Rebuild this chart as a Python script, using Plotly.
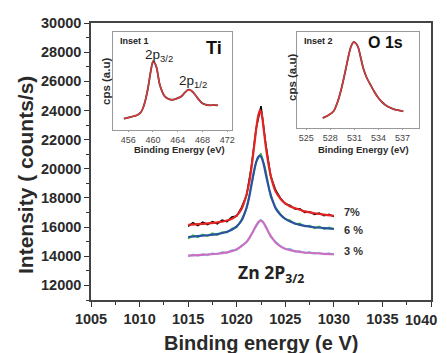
import plotly.graph_objects as go

# ---------------- main spectra (Zn 2p3/2) ----------------
x_fit = [1015, 1016, 1017, 1018, 1019, 1019.5, 1020, 1020.5, 1021, 1021.3, 1021.6, 1021.8,
         1022.0, 1022.2, 1022.4, 1022.6, 1022.8, 1023.0, 1023.2, 1023.4, 1023.6, 1024,
         1024.5, 1025, 1025.5, 1026, 1027, 1028, 1029, 1030]
fit_7 = [16150, 16200, 16250, 16320, 16450, 16580, 16800, 17250, 18200, 19100, 20500, 21600,
         22700, 23600, 24050, 23650, 22600, 21500, 20600, 19850, 19250, 18450,
         17950, 17620, 17420, 17300, 17080, 16950, 16850, 16780]
fit_6 = [15320, 15380, 15440, 15520, 15680, 15820, 16050, 16450, 17300, 18100, 19200, 19900,
         20450, 20800, 20900, 20700, 20250, 19600, 19000, 18450, 18000, 17300,
         16850, 16560, 16380, 16250, 16080, 15990, 15930, 15880]
fit_3 = [14050, 14080, 14120, 14170, 14270, 14350, 14480, 14700, 14980, 15250, 15600, 15850,
         16100, 16320, 16450, 16420, 16250, 16000, 15750, 15500, 15300, 14950,
         14680, 14520, 14420, 14350, 14260, 14210, 14170, 14150]

x_dat = [1015, 1015.5, 1016, 1016.5, 1017, 1017.5, 1018, 1018.5, 1019, 1019.5, 1020, 1020.5,
         1021, 1021.5, 1022, 1022.5, 1023, 1023.5, 1024, 1024.5, 1025, 1025.5, 1026, 1026.5,
         1027, 1027.5, 1028, 1028.5, 1029, 1029.5, 1030]
dat_7 = [16050, 16300, 16100, 16330, 16180, 16380, 16230, 16480, 16380, 16700, 16760, 17350,
         18150, 20100, 22750, 24300, 21650, 19500, 18550, 17980, 17600, 17480, 17250, 17250,
         17000, 17050, 16880, 16960, 16780, 16880, 16720]
dat_6 = [15200, 15450, 15300, 15500, 15380, 15580, 15450, 15660, 15620, 15900, 15980, 16520,
         17250, 18950, 20450, 21050, 19850, 18050, 17350, 16900, 16560, 16480, 16200, 16260,
         16050, 16100, 15920, 16050, 15860, 15980, 15850]
dat_3 = [13980, 14130, 14020, 14160, 14060, 14220, 14120, 14300, 14220, 14420, 14430, 14750,
         14950, 15520, 16050, 16500, 16080, 15300, 15000, 14720, 14480, 14520, 14300, 14360,
         14220, 14310, 14170, 14260, 14130, 14220, 14110]

series_labels = ["7%", "6 %", "3 %"]
label_y = [17040, 15780, 14360]

x_tickvals = [1005, 1010, 1015, 1020, 1025, 1030, 1035, 1040]
x_ticktext = ["1005", "1010", "1015", "1020", "1025", "1030", "1035", ""]
last_x_label = "1040"

# ---------------- inset 1: Ti 2p ----------------
ti_x = [455.3, 456.3, 457.4, 458.0, 458.4, 458.8, 459.2, 459.6, 460.0, 460.3, 460.6, 461.1,
        461.9, 462.6, 463.3, 464.0, 464.6, 465.2, 465.7, 466.2, 466.8, 467.4, 467.9, 468.5,
        469.2, 469.8, 470.5]
ti_y = [11.0, 12.5, 14.4, 17.0, 21.7, 30.0, 41.7, 57.0, 68.4, 66.5, 61.7, 45.0,
        33.4, 30.5, 30.0, 31.5, 33.4, 37.5, 40.0, 39.0, 35.0, 30.0, 26.7, 25.0,
        24.4, 24.6, 24.4]

# ---------------- inset 2: O 1s ----------------
o_x = [527.05, 527.7, 528.4, 528.9, 529.4, 529.9, 530.3, 530.6, 530.9, 531.2, 531.5, 531.8,
       532.1, 532.5, 533.0, 533.5, 534.0, 534.5, 535.1, 535.6, 536.1, 537.1]
o_y = [10.0, 12.5, 16.7, 26.0, 40.0, 58.0, 73.3, 82.0, 86.0, 84.5, 80.0, 70.0,
       60.0, 51.0, 43.3, 36.0, 30.0, 25.5, 21.7, 19.8, 18.3, 16.7]

inset1_ticks = [456, 460, 464, 468, 472]
inset2_ticks = [525, 528, 531, 534, 537]

FONT = "Liberation Sans, Arial, sans-serif"
TXT = "#2a2a2a"
OFF = 8  # page body margin of the html page

fig = go.Figure()

fig.add_trace(go.Scatter(x=x_dat, y=dat_7, mode="lines", line=dict(color="black", width=1.6)))
fig.add_trace(go.Scatter(x=x_dat, y=dat_6, mode="lines", line=dict(color="#3cbf3c", width=1.6)))
fig.add_trace(go.Scatter(x=x_dat, y=dat_3, mode="lines", line=dict(color="#66d4dc", width=1.6)))
fig.add_trace(go.Scatter(x=x_fit, y=fit_7, mode="lines", line=dict(color="#e42323", width=2.2, shape="spline", smoothing=0.6)))
fig.add_trace(go.Scatter(x=x_fit, y=fit_6, mode="lines", line=dict(color="#2a52a0", width=2.2, shape="spline", smoothing=0.6)))
fig.add_trace(go.Scatter(x=x_fit, y=fit_3, mode="lines", line=dict(color="#cc6fc4", width=2.2, shape="spline", smoothing=0.6)))

fig.add_trace(go.Scatter(x=ti_x, y=ti_y, mode="lines", xaxis="x2", yaxis="y2",
                         line=dict(color="#333333", width=1.8, shape="spline", smoothing=0.6)))
fig.add_trace(go.Scatter(x=ti_x, y=ti_y, mode="lines", xaxis="x2", yaxis="y2",
                         line=dict(color="#d63a3a", width=1.5, shape="spline", smoothing=0.6)))
fig.add_trace(go.Scatter(x=o_x, y=o_y, mode="lines", xaxis="x3", yaxis="y3",
                         line=dict(color="#333333", width=1.8, shape="spline", smoothing=0.6)))
fig.add_trace(go.Scatter(x=o_x, y=o_y, mode="lines", xaxis="x3", yaxis="y3",
                         line=dict(color="#d63a3a", width=1.5, shape="spline", smoothing=0.6)))

main_tickfont = dict(family=FONT, size=14.5, color=TXT, weight="bold")
inset_tickfont = dict(family=FONT, size=9, color="#444")

fig.update_layout(
    width=447 - OFF, height=353 - OFF,
    margin=dict(l=91 - OFF, r=16, t=23 - OFF, b=53, autoexpand=False),
    paper_bgcolor="white", plot_bgcolor="white",
    showlegend=False,
    xaxis=dict(range=[1005, 1040], tickvals=x_tickvals, ticktext=x_ticktext,
               ticks="outside", ticklen=5, tickwidth=1.2, tickcolor="#333", automargin=False,
               minor=dict(dtick=2.5, tick0=1005, ticks="outside", ticklen=3, tickcolor="#333"),
               showline=True, linecolor="#444", linewidth=1.5, mirror=True,
               showgrid=False, zeroline=False, tickfont=main_tickfont),
    yaxis=dict(range=[11000, 30000], tickvals=[12000, 14000, 16000, 18000, 20000, 22000, 24000,
                                                 26000, 28000, 30000], tickformat="d",
               ticks="outside", ticklen=5, tickwidth=1.2, tickcolor="#333", automargin=False,
               minor=dict(dtick=1000, tick0=11000, ticks="outside", ticklen=3, tickcolor="#333"),
               showline=True, linecolor="#444", linewidth=1.5, mirror=True,
               showgrid=False, zeroline=False, tickfont=main_tickfont),
    xaxis2=dict(domain=[0.0656, 0.4156], anchor="y2", range=[453.6, 472.8], automargin=False,
                tickvals=inset1_ticks, ticks="outside", ticklen=1, tickcolor="#999",
                showline=True, linecolor="#999", linewidth=1, mirror=True,
                showgrid=False, zeroline=False, tickfont=inset_tickfont),
    yaxis2=dict(domain=[0.6148, 0.9675], anchor="x2", range=[0, 97.7], automargin=False,
                showticklabels=False, ticks="", showline=True, linecolor="#999", linewidth=1,
                mirror=True, showgrid=False, zeroline=False),
    xaxis3=dict(domain=[0.605, 0.9656], anchor="y3", range=[523.8, 539.1], automargin=False,
                tickvals=inset2_ticks, ticks="outside", ticklen=1, tickcolor="#999",
                showline=True, linecolor="#999", linewidth=1, mirror=True,
                showgrid=False, zeroline=False, tickfont=inset_tickfont),
    yaxis3=dict(domain=[0.621, 0.9675], anchor="x3", range=[0, 96], automargin=False,
                showticklabels=False, ticks="", showline=True, linecolor="#999", linewidth=1,
                mirror=True, showgrid=False, zeroline=False),
)

def px_x(p):
    return (p - 91) / 340.0

def px_y(p):
    return (300 - p) / 277.0

ann = []
ann.append(dict(x=px_x(439), y=px_y(320), xref="paper", yref="paper", text=last_x_label,
                showarrow=False, xanchor="right", yanchor="middle",
                font=main_tickfont))
ann.append(dict(x=px_x(25), y=px_y(175), xref="paper", yref="paper", text="Intensity ( counts/s)",
                textangle=-90, showarrow=False, xanchor="center", yanchor="middle",
                font=dict(family=FONT, size=21, color=TXT, weight="bold")))
ann.append(dict(x=px_x(261), y=px_y(343), xref="paper", yref="paper", text="Binding energy (e V)",
                showarrow=False, xanchor="center", yanchor="middle",
                font=dict(family=FONT, size=20, color=TXT, weight="bold")))
for xc, txt in [(179, "Binding Energy (eV)"), (363, "Binding Energy (eV)")]:
    ann.append(dict(x=px_x(xc), y=px_y(149.5), xref="paper", yref="paper", text=txt,
                    showarrow=False, xanchor="center", yanchor="middle",
                    font=dict(family=FONT, size=9.5, color=TXT, weight="bold")))
for xc, yc in [(106, 82), (292, 78)]:
    ann.append(dict(x=px_x(xc), y=px_y(yc), xref="paper", yref="paper", text="cps (a.u)",
                    textangle=-90, showarrow=False, xanchor="center", yanchor="middle",
                    font=dict(family=FONT, size=11.5, color=TXT, weight="bold")))

for lab, yv in zip(series_labels, label_y):
    ann.append(dict(x=1030.85, y=yv, xref="x", yref="y", text=lab, showarrow=False,
                    xanchor="left", yanchor="middle",
                    font=dict(family=FONT, size=11, color="#333", weight="bold")))
ann.append(dict(x=1023.5, y=12850, xref="x", yref="y", text="Zn 2P<sub>3/2</sub>",
                showarrow=False, xanchor="center", yanchor="middle",
                font=dict(family="Open Sans, sans-serif", size=17.5, color="#222", weight="bold")))
ann.append(dict(x=454.3, y=89, xref="x2", yref="y2", text="Inset 1", showarrow=False,
                xanchor="left", yanchor="middle",
                font=dict(family=FONT, size=9, color="#222", weight="bold")))
ann.append(dict(x=469.9, y=82, xref="x2", yref="y2", text="Ti", showarrow=False,
                xanchor="center", yanchor="middle",
                font=dict(family=FONT, size=18, color="#111", weight="bold")))
ann.append(dict(x=458.4, y=74, xref="x2", yref="y2", text="2p<sub>3/2</sub>", showarrow=False,
                xanchor="left", yanchor="middle",
                font=dict(family=FONT, size=13.5, color="#222")))
ann.append(dict(x=463.9, y=48, xref="x2", yref="y2", text="2p<sub>1/2</sub>", showarrow=False,
                xanchor="left", yanchor="middle",
                font=dict(family=FONT, size=13.5, color="#222")))
ann.append(dict(x=524.4, y=87, xref="x3", yref="y3", text="Inset 2", showarrow=False,
                xanchor="left", yanchor="middle",
                font=dict(family=FONT, size=9, color="#222", weight="bold")))
ann.append(dict(x=534.9, y=86, xref="x3", yref="y3", text="O 1s", showarrow=False,
                xanchor="center", yanchor="middle",
                font=dict(family=FONT, size=16, color="#111", weight="bold")))
fig.update_layout(annotations=ann)

fig.write_html("out.html")
